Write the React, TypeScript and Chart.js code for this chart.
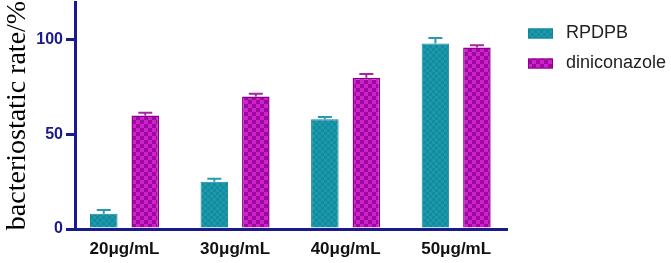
import React, { useEffect, useRef } from "react";
import { Chart, registerables } from "chart.js";
Chart.register(...registerables);

const categories = ["20μg/mL", "30μg/mL", "40μg/mL", "50μg/mL"];
const seriesNames = ["RPDPB", "diniconazole"];
const rpdpbValues = [8, 25, 58, 98];
const rpdpbErrors = [2, 1.5, 1.2, 3];
const diniconazoleValues = [60, 70, 80, 96];
const diniconazoleErrors = [1.5, 1.5, 2, 1.2];
const yTickValues = [0, 50, 100];
const yMax = 120;

const NAVY = "#1a1a8a";
const seriesValues = [rpdpbValues, diniconazoleValues];
const seriesErrors = [rpdpbErrors, diniconazoleErrors];
const borderColors = ["#16869a", "#8a008a"];
const errColors = ["#2a9aae", "#a428a4"];

function checker(c1: string, c2: string, size: number): CanvasPattern | string {
  const cv = document.createElement("canvas");
  cv.width = size * 2;
  cv.height = size * 2;
  const ctx = cv.getContext("2d");
  if (!ctx) return c1;
  ctx.fillStyle = c1;
  ctx.fillRect(0, 0, size * 2, size * 2);
  ctx.fillStyle = c2;
  ctx.fillRect(0, 0, size, size);
  ctx.fillRect(size, size, size, size);
  return ctx.createPattern(cv, "repeat") || c1;
}

const errorBarPlugin = {
  id: "errorBars",
  afterDatasetsDraw(chart: any) {
    const ctx = chart.ctx;
    const y = chart.scales.y;
    chart.data.datasets.forEach((_ds: any, di: number) => {
      const meta = chart.getDatasetMeta(di);
      meta.data.forEach((bar: any, i: number) => {
        const top = y.getPixelForValue(seriesValues[di][i] + seriesErrors[di][i]);
        ctx.save();
        ctx.strokeStyle = errColors[di];
        ctx.lineWidth = 2;
        ctx.beginPath();
        ctx.moveTo(bar.x, bar.y);
        ctx.lineTo(bar.x, top);
        ctx.moveTo(bar.x - 7, top);
        ctx.lineTo(bar.x + 7, top);
        ctx.stroke();
        ctx.restore();
      });
    });
  },
};

const legendPlugin = {
  id: "customLegend",
  afterDraw(chart: any) {
    const ctx = chart.ctx;
    const left = chart.chartArea.right + 21;
    const rows = [33.5, 63.5];
    chart.data.datasets.forEach((ds: any, di: number) => {
      const cy = rows[di];
      ctx.save();
      ctx.fillStyle = ds.backgroundColor;
      ctx.fillRect(left, cy - 5, 25, 10);
      ctx.strokeStyle = borderColors[di];
      ctx.lineWidth = 1;
      ctx.strokeRect(left + 0.5, cy - 4.5, 24, 9);
      ctx.fillStyle = "#222";
      ctx.font = "18px 'Liberation Sans', Arial, sans-serif";
      ctx.textBaseline = "middle";
      ctx.textAlign = "left";
      ctx.fillText(seriesNames[di], left + 38, cy);
      ctx.restore();
    });
  },
};

export default function App() {
  const ref = useRef<HTMLCanvasElement | null>(null);
  useEffect(() => {
    if (!ref.current) return;
    const tealPattern = checker("#1b9aac", "#148a9e", 3);
    const purplePattern = checker("#9c0a9c", "#d020d0", 4);
    const chart = new Chart(ref.current, {
      type: "bar",
      data: {
        datasets: [
          {
            label: seriesNames[0],
            data: rpdpbValues.map((v, i) => ({ x: i, y: v })),
            backgroundColor: tealPattern as any,
            borderColor: borderColors[0],
            borderWidth: 1,
            categoryPercentage: 0.751,
            barPercentage: 0.663,
          },
          {
            label: seriesNames[1],
            data: diniconazoleValues.map((v, i) => ({ x: i, y: v })),
            backgroundColor: purplePattern as any,
            borderColor: borderColors[1],
            borderWidth: 1.5,
            categoryPercentage: 0.751,
            barPercentage: 0.663,
          },
        ],
      },
      options: {
        animation: false,
        responsive: false,
        devicePixelRatio: 1,
        layout: { padding: { top: 2, right: 164, left: 0, bottom: 0 } },
        plugins: { legend: { display: false }, tooltip: { enabled: false } },
        scales: {
          x: {
            type: "linear",
            min: -0.448,
            max: 3.46,
            offset: false,
            afterBuildTicks: (s: any) => {
              s.ticks = categories.map((_c, i) => ({ value: i }));
            },
            afterFit: (s: any) => {
              s.height = 34;
              s.paddingLeft = 0;
              s.paddingRight = 0;
            },
            ticks: {
              autoSkip: false,
              maxRotation: 0,
              padding: 10,
              color: "#111",
              font: { family: "'Liberation Sans', Arial, sans-serif", weight: "bold", size: 17 },
              callback: (_v: any, i: number) => categories[i],
            },
            grid: { display: false, drawTicks: false },
            border: { color: NAVY, width: 3 },
          },
          y: {
            min: 0,
            max: yMax,
            afterBuildTicks: (s: any) => {
              s.ticks = yTickValues.map((v) => ({ value: v }));
            },
            afterFit: (s: any) => {
              s.width = 75;
              s.paddingTop = 0;
              s.paddingBottom = 0;
            },
            ticks: {
              padding: 3,
              color: NAVY,
              font: { family: "'Liberation Sans', Arial, sans-serif", weight: "bold", size: 16 },
            },
            grid: { drawOnChartArea: false, drawTicks: true, tickLength: 9, color: NAVY, lineWidth: 3 },
            border: { color: NAVY, width: 3 },
            title: {
              display: true,
              text: "bacteriostatic rate/%",
              color: "#000",
              font: { family: "'Liberation Serif', 'Times New Roman', serif", size: 28 },
              padding: { top: 1, bottom: 0 },
            },
          },
        },
      } as any,
      plugins: [errorBarPlugin, legendPlugin],
    });
    return () => chart.destroy();
  }, []);
  return (
    <div style={{ position: "fixed", left: 0, top: 0, width: 671, height: 263, background: "#fff" }}>
      <canvas ref={ref} width={671} height={263} />
    </div>
  );
}
